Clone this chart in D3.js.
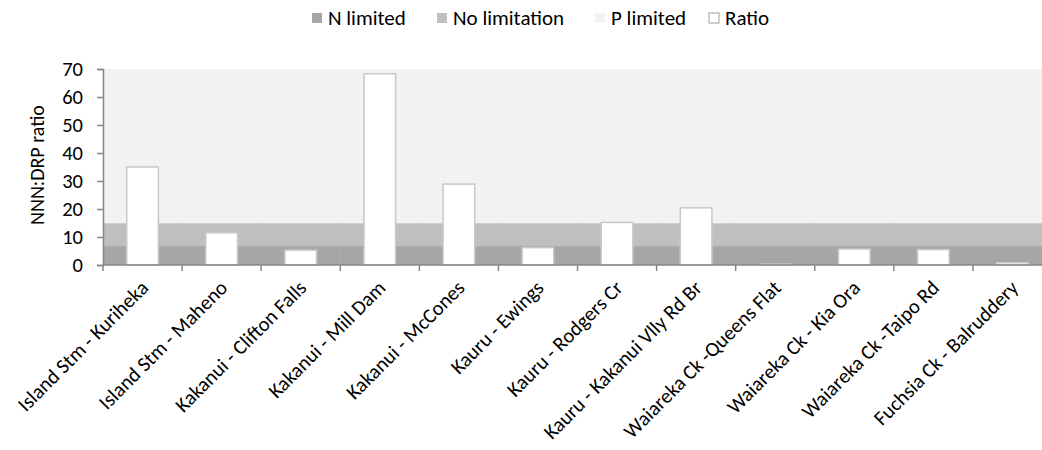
<!DOCTYPE html>
<html><head><meta charset="utf-8">
<script src="https://cdn.jsdelivr.net/npm/d3@7"></script>
<style>
body{margin:0;background:#fff;}
svg text{font-family:Carlito, Calibri, Lato, "Open Sans", sans-serif;fill:#000;}
</style></head>
<body><svg id="c" width="1042" height="450"></svg>
<script>
const categories = ["Island Stm - Kuriheka","Island Stm - Maheno","Kakanui - Clifton Falls","Kakanui - Mill Dam","Kakanui - McCones","Kauru - Ewings","Kauru - Rodgers Cr","Kauru - Kakanui Vlly Rd Br","Waiareka Ck -Queens Flat","Waiareka Ck - Kia Ora","Waiareka Ck -Taipo Rd","Fuchsia Ck - Balruddery"];
const nLimited = [7,7,7,7,7,7,7,7,7,7,7,7];
const noLimitation = [8,8,8,8,8,8,8,8,8,8,8,8];
const pLimited = [55,55,55,55,55,55,55,55,55,55,55,55];
const ratio = [35,11.5,5.3,68.3,28.9,6.2,15.2,20.4,0.3,5.7,5.5,0.8];
const yTicks = [0,10,20,30,40,50,60,70];
const seriesNames = ["N limited","No limitation","P limited","Ratio"];
const seriesColors = ["#a6a6a6","#bfbfbf","#f2f2f2","#ffffff"];

const svg = d3.select("#c");
const mLeft = 103, mRight = 1052, mTop = 69, mBottom = 265;
const x = d3.scaleBand().domain(categories).range([mLeft, mRight]).padding(0);
const y = d3.scaleLinear().domain([0,70]).range([mBottom, mTop]);

const stackData = categories.map((c,i)=>({cat:c, "N limited":nLimited[i], "No limitation":noLimitation[i], "P limited":pLimited[i]}));
const stack = d3.stack().keys(["N limited","No limitation","P limited"])(stackData);

const g = svg.append("g");
stack.forEach((layer,li)=>{
  g.selectAll(null).data(layer).enter().append("rect")
    .attr("x", d=>x(d.data.cat)).attr("width", x.bandwidth()+0.5)
    .attr("y", d=>y(d[1])).attr("height", d=>y(d[0])-y(d[1]))
    .attr("fill", seriesColors[li]);
  if(li<2){
    g.selectAll(null).data(layer).enter().append("line")
      .attr("x1", d=>x(d.data.cat)).attr("x2", d=>x(d.data.cat)+x.bandwidth())
      .attr("y1", d=>y(d[1])+0.5).attr("y2", d=>y(d[1])+0.5)
      .attr("stroke", li==0?"#b8b8b8":"#cfcfcf").attr("stroke-width",1);
  }
});

const bw = x.bandwidth()*0.4;
g.selectAll(null).data(ratio).enter().append("rect")
  .attr("x",(d,i)=>x(categories[i])+(x.bandwidth()-bw)/2)
  .attr("width", bw)
  .attr("y", d=>y(d)).attr("height", d=>y(0)-y(d))
  .attr("fill","#ffffff").attr("stroke","#c8c8c8").attr("stroke-width",1.5);

// axes
const yAxis = d3.axisLeft(y).tickValues(yTicks).tickSize(6).tickPadding(14);
const ya = svg.append("g").attr("transform",`translate(${mLeft},0)`).call(yAxis);
ya.select(".domain").attr("stroke","#868686").attr("stroke-width",1.5);
ya.selectAll(".tick line").attr("stroke","#868686").attr("stroke-width",1.5);
ya.selectAll("text").style("font-size","20.5px").style("font-family","Carlito, Calibri, Lato, sans-serif").attr("fill","#000");

const xAxisLine = svg.append("g");
xAxisLine.append("line").attr("x1",mLeft).attr("x2",mRight).attr("y1",mBottom).attr("y2",mBottom)
  .attr("stroke","#868686").attr("stroke-width",1.5);
const bounds = categories.map(c=>x(c)).concat([mRight]);
xAxisLine.selectAll(null).data(bounds).enter().append("line")
  .attr("x1",d=>d).attr("x2",d=>d).attr("y1",mBottom).attr("y2",mBottom+6)
  .attr("stroke","#868686").attr("stroke-width",1.5);

svg.append("g").selectAll(null).data(categories).enter().append("text")
  .attr("transform", d=>`translate(${x(d)+x.bandwidth()/2+2},${mBottom+19}) rotate(-45)`)
  .attr("text-anchor","end").attr("dy","0.35em")
  .style("font-size","20.5px").text(d=>d);

svg.append("text").attr("transform",`translate(37,${(mTop+mBottom)/2-2}) rotate(-90)`)
  .attr("text-anchor","middle").attr("dy","0.35em").style("font-size","20px").text("NNN:DRP ratio");

// legend
const legX = [312, 437, 595, 709];
const leg = svg.append("g");
seriesNames.forEach((s,i)=>{
  leg.append("rect").attr("x",legX[i]).attr("y",13).attr("width",10).attr("height",10)
    .attr("fill",seriesColors[i]).attr("stroke", i==3?"#a0a0a0":"none").attr("stroke-width",1);
  leg.append("text").attr("x",legX[i]+16).attr("y",18).attr("dy","0.35em")
    .style("font-size","21px").text(s);
});
</script></body></html>
